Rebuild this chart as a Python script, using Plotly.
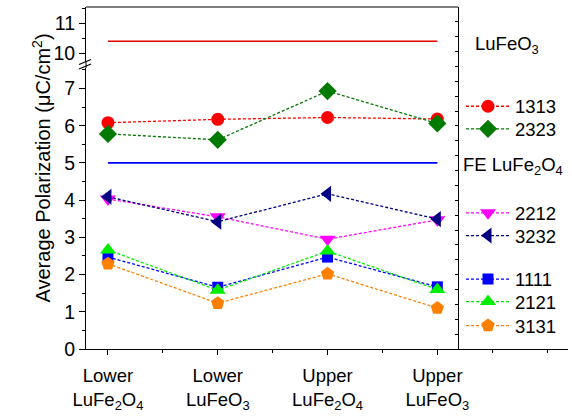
import plotly.graph_objects as go

# ---------------- data ----------------
categories = [0, 1, 2, 3]
category_labels = ["Lower<br>LuFe<sub>2</sub>O<sub>4</sub>", "Lower<br>LuFeO<sub>3</sub>",
                   "Upper<br>LuFe<sub>2</sub>O<sub>4</sub>", "Upper<br>LuFeO<sub>3</sub>"]

s1313 = [6.08, 6.17, 6.22, 6.18]
s2323 = [5.78, 5.62, 6.93, 6.06]
s2212 = [4.03, 3.55, 2.95, 3.47]
s3232 = [4.09, 3.42, 4.17, 3.49]
s1111 = [2.47, 1.66, 2.47, 1.67]
s2121 = [2.66, 1.58, 2.63, 1.60]
s3131 = [2.29, 1.23, 2.02, 1.10]

ref_LuFeO3 = [10.4, 10.4]
ref_FE_LuFe2O4 = [5.0, 5.0]
ref_x = [0, 3]

FONT = "Liberation Sans, Arial, sans-serif"

W, H = 572, 416
ml, mr, mt, mb = 86, 4, 7, 67
pw = W - ml - mr
ph = H - mt - mb

def px_x(p):
    return (p - ml) / pw

def px_y(p):
    return (H - mb - p) / ph

fig = go.Figure()

# reference lines
fig.add_trace(go.Scatter(x=ref_x, y=ref_LuFeO3, mode="lines", yaxis="y2",
                         line=dict(color="#e00000", width=1.6), showlegend=False))
fig.add_trace(go.Scatter(x=ref_x, y=ref_FE_LuFe2O4, mode="lines",
                         line=dict(color="#0000ff", width=1.6), showlegend=False))

series = [
    ("1313", s1313, "#ff0000", "circle", 13, 106.7),
    ("2323", s2323, "#007a00", "diamond", 14, 129.3),
    ("2212", s2212, "#ff00ff", "triangle-down", 14, 213.3),
    ("3232", s3232, "#000080", "triangle-left", 14, 236.0),
    ("1111", s1111, "#0000ff", "square", 11, 279.5),
    ("2121", s2121, "#00ee00", "triangle-up", 14, 302.0),
    ("3131", s3131, "#ff8000", "pentagon", 14, 326.0),
]

legend_layouts = {}
for i, (name, vals, col, sym, size, ly) in enumerate(series):
    lkey = "legend" if i == 0 else f"legend{i + 1}"
    fig.add_trace(go.Scatter(
        x=categories, y=vals, name=name, mode="lines+markers",
        line=dict(color=col, width=1.3, dash="3px,2px"),
        marker=dict(color=col, symbol=sym, size=size, line=dict(width=0)),
        legend=lkey))
    legend_layouts[lkey] = dict(
        x=px_x(461), y=px_y(ly), xanchor="left", yanchor="middle",
        font=dict(family=FONT, size=18.5, color="black"), itemwidth=44,
        bgcolor="rgba(0,0,0,0)", borderwidth=0)

# dummy trace for the right frame axis
fig.add_trace(go.Scatter(x=[None], y=[None], yaxis="y3", showlegend=False, hoverinfo="skip"))

x_lo, x_hi = -0.2, 4.19
right_frame_pos = (3.19 - x_lo) / (x_hi - x_lo)

axis_common = dict(showline=True, linecolor="black", linewidth=1, showgrid=False,
                   zeroline=False, ticks="outside", tickcolor="black", ticklen=6,
                   tickfont=dict(family=FONT, size=19.5, color="black"))

fig.update_layout(
    width=W, height=H,
    margin=dict(l=ml, r=mr, t=mt, b=mb),
    paper_bgcolor="white", plot_bgcolor="rgba(0,0,0,0)",
    font=dict(family=FONT, color="black"),
    xaxis=dict(range=[x_lo, x_hi], tickvals=categories, ticktext=category_labels,
               showline=True, linecolor="black", linewidth=1, showgrid=False, zeroline=False,
               ticks="outside", tickcolor="black", ticklen=5, ticklabelstandoff=5,
               minor=dict(tickvals=[0.5, 1.5, 2.5, 3.5, 4.0], ticklen=3, tickcolor="black",
                          ticks="outside"),
               tickfont=dict(family=FONT, size=18.5, color="black"), anchor="y"),
    yaxis=dict(domain=[0, px_y(68)], range=[0, 7.55], tickvals=[0, 1, 2, 3, 4, 5, 6, 7],
               minor=dict(dtick=0.5, ticklen=3, tickcolor="black", ticks="outside"),
               anchor="x", **axis_common),
    yaxis2=dict(domain=[px_y(61), 1], range=[9.74, 11.54], tickvals=[10, 11],
                minor=dict(dtick=0.5, ticklen=3, tickcolor="black", ticks="outside"),
                anchor="x", **axis_common),
    yaxis3=dict(domain=[0, 1], range=[0, 23], dtick=1, anchor="free", position=right_frame_pos,
                side="right", showline=True, linecolor="black", linewidth=1,
                ticks="inside", ticklen=3, tickcolor="black", showticklabels=False,
                showgrid=False, zeroline=False),
    annotations=[
        dict(text="Average Polarization (\u03bcC/cm<sup>2</sup>)", textangle=-90,
             x=px_x(27), y=px_y(168), xref="paper", yref="paper", showarrow=False,
             font=dict(family=FONT, size=20, color="black")),
        dict(text="LuFeO<sub>3</sub>", x=px_x(473), y=px_y(31), xref="paper", yref="paper",
             xanchor="left", showarrow=False, font=dict(family=FONT, size=18.5, color="black")),
        dict(text="FE LuFe<sub>2</sub>O<sub>4</sub>", x=px_x(461), y=px_y(166), xref="paper",
             yref="paper", xanchor="left", showarrow=False,
             font=dict(family=FONT, size=18.5, color="black")),
    ],
    shapes=[
        # top frame
        dict(type="line", xref="paper", yref="paper", x0=0, x1=right_frame_pos, y0=1, y1=1,
             line=dict(color="black", width=1)),
        # left axis across the break
        dict(type="line", xref="paper", yref="paper", x0=0, x1=0, y0=px_y(68), y1=px_y(61),
             line=dict(color="black", width=1)),
        # break marks
        dict(type="line", xref="paper", yref="paper", x0=px_x(79), x1=px_x(91),
             y0=px_y(64.5), y1=px_y(59.5), line=dict(color="black", width=1.2)),
        dict(type="line", xref="paper", yref="paper", x0=px_x(79), x1=px_x(91),
             y0=px_y(69), y1=px_y(64), line=dict(color="black", width=1.2)),
    ],
    **legend_layouts,
)

fig.write_html("out.html")
